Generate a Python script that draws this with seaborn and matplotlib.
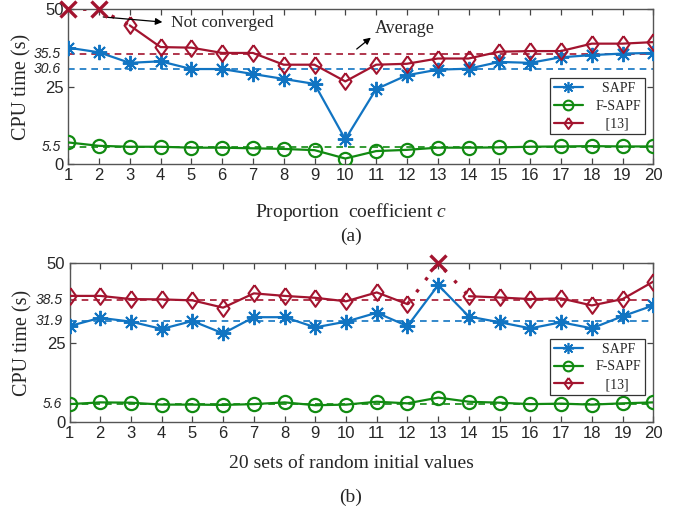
import numpy as np
import pandas as pd
import matplotlib
matplotlib.use('Agg')
import matplotlib.pyplot as plt
import seaborn as sns
from matplotlib.lines import Line2D

# panel (a): proportion coefficient c
c_vals = list(range(1, 21))
sapf_a = [37.6, 36.1, 32.7, 33.2, 30.7, 30.7, 29.1, 27.5, 25.9, 8.0,
          24.2, 28.7, 30.5, 30.8, 33.0, 32.7, 34.5, 35.2, 35.7, 35.9]
fsapf_a = [7.0, 5.9, 5.6, 5.6, 5.3, 5.3, 5.1, 4.9, 4.5, 1.8,
           4.2, 4.6, 5.3, 5.3, 5.4, 5.6, 5.7, 5.8, 5.7, 5.7]
ref13_a = [np.nan, np.nan, 44.8, 37.8, 37.6, 35.9, 35.9, 32.1, 32.1, 26.7,
           32.1, 32.4, 34.1, 34.1, 36.3, 36.5, 36.5, 38.9, 38.9, 39.4]
nc_a = [1, 2]  # not converged runs of [13]
avg_a = {'sapf': 30.6, 'fsapf': 5.5, 'ref13': 35.5}

# panel (b): 20 sets of random initial values
sets_b = list(range(1, 21))
sapf_b = [30.2, 32.8, 31.6, 29.3, 31.8, 27.9, 33.0, 33.0, 29.8, 31.6,
          34.4, 30.2, 43.1, 33.2, 31.4, 29.5, 31.4, 29.5, 33.3, 36.7]
fsapf_b = [5.65, 6.2, 6.1, 5.5, 5.5, 5.4, 5.65, 6.2, 5.3, 5.5,
           6.4, 5.9, 7.7, 6.4, 6.1, 5.65, 5.8, 5.5, 5.9, 6.2]
ref13_b = [39.7, 39.7, 38.7, 38.6, 38.3, 36.0, 40.5, 39.7, 39.1, 38.0,
           40.8, 37.1, np.nan, 39.6, 39.2, 38.7, 38.9, 36.7, 38.7, 44.2]
nc_b = [13]
avg_b = {'sapf': 31.9, 'fsapf': 5.6, 'ref13': 38.5}

NC_VALUE = 50
legend_labels = ['  SAPF', 'F-SAPF', '   [13]']

BLUE = '#1174c2'
GREEN = '#118a11'
RED = '#a3142f'
SERIF = 'Liberation Serif'
SANS = 'Liberation Sans'

ASTER = (8, 2, 0)
DIAMOND = [(0, 1), (0.72, 0), (0, -1), (-0.72, 0), (0, 1)]

sns.set_style('ticks')
plt.rcParams['font.family'] = SANS
plt.rcParams['mathtext.fontset'] = 'custom'
plt.rcParams['mathtext.it'] = 'Liberation Serif:italic'
plt.rcParams['mathtext.rm'] = 'Liberation Serif'


def segments(x, y):
    # split a series at NaN gaps
    out, cx, cy = [], [], []
    for xi, yi in zip(x, y):
        if np.isnan(yi):
            if cx:
                out.append((cx, cy))
            cx, cy = [], []
        else:
            cx.append(xi)
            cy.append(yi)
    if cx:
        out.append((cx, cy))
    return out


def plot_panel(ax, x, sapf, fsapf, ref13, nc, avg, leg_y):
    styles = [(sapf, BLUE, ASTER, dict(ms=11, mew=1.4)),
              (fsapf, GREEN, 'o', dict(ms=9.5, mew=1.6, mfc='none')),
              (ref13, RED, DIAMOND, dict(ms=12, mew=1.5, mfc='none'))]
    for y, col, mk, kw in styles:
        for sx, sy in segments(x, y):
            sns.lineplot(x=sx, y=sy, ax=ax, color=col, marker=mk, lw=1.6,
                         mec=col, zorder=3, **kw)
    # dotted connection for non-converged runs of [13]
    full = [NC_VALUE if xi in nc else yi for xi, yi in zip(x, ref13)]
    idx = [i for i, xi in enumerate(x) if xi in nc]
    lo, hi = max(min(idx) - 1, 0), min(max(idx) + 1, len(x) - 1)
    ax.plot(x[lo:hi + 1], full[lo:hi + 1], color=RED, ls=(0, (1, 3.5)), lw=2.4,
            zorder=2)
    ax.plot(nc, [NC_VALUE] * len(nc), ls='none', marker='x', ms=11, mew=2.4,
            color=RED, zorder=4, clip_on=False)
    # averages
    for key, col in [('sapf', BLUE), ('fsapf', GREEN), ('ref13', RED)]:
        ax.axhline(avg[key], color=col, ls=(0, (4, 3)), lw=1.2, zorder=1)
        ax.text(-0.012, avg[key], '%.1f' % avg[key], transform=ax.get_yaxis_transform(),
                ha='right', va='center', fontsize=10, style='italic',
                family=SANS)
    ax.set_xlim(1, 20)
    ax.set_ylim(0, 50)
    ax.set_xticks(x)
    ax.set_yticks([0, 25, 50])
    ax.tick_params(direction='in', top=True, right=True, labelsize=12,
                   length=4, width=0.9, color='#444444', pad=3)
    for s in ax.spines.values():
        s.set_color('#555555')
        s.set_linewidth(1.0)
    ax.set_ylabel('CPU time (s)', family=SERIF, fontsize=14.5, labelpad=10)
    handles = [Line2D([], [], color=BLUE, marker=ASTER, ms=8, mew=1.2, lw=1.6),
               Line2D([], [], color=GREEN, marker='o', ms=7, mew=1.5, mfc='none', lw=1.6),
               Line2D([], [], color=RED, marker=DIAMOND, ms=8, mew=1.4, mfc='none', lw=1.6)]
    leg = ax.legend(handles, legend_labels, loc='upper right',
                    bbox_to_anchor=(0.985, leg_y), prop={'family': SERIF, 'size': 10},
                    fancybox=False, edgecolor='#333333', framealpha=1,
                    handlelength=2.1, borderpad=0.25, labelspacing=0.35,
                    handletextpad=0.9, borderaxespad=0)
    leg.get_frame().set_linewidth(0.9)


fig = plt.figure(figsize=(6.95, 5.16), dpi=100)
ax1 = fig.add_axes([0.098, 0.682, 0.842, 0.300])
ax2 = fig.add_axes([0.100, 0.182, 0.840, 0.308])

plot_panel(ax1, c_vals, sapf_a, fsapf_a, ref13_a, nc_a, avg_a, 0.555)
plot_panel(ax2, sets_b, sapf_b, fsapf_b, ref13_b, nc_b, avg_b, 0.522)

ax1.annotate('', xy=(4.15, 45.8), xytext=(2.05, 47.6),
             arrowprops=dict(arrowstyle='-|>', color='black', lw=0.9, mutation_scale=10))
ax1.text(4.35, 45.6, 'Not converged', family=SERIF, fontsize=12.5, va='center')
ax1.annotate('', xy=(10.9, 41.4), xytext=(10.3, 36.6),
             arrowprops=dict(arrowstyle='-|>', color='black', lw=0.9, mutation_scale=10))
ax1.text(10.95, 43.8, 'Average', family=SERIF, fontsize=13, va='center')

fig.text(0.505, 1 - 212 / 516, 'Proportion  coefficient $\\mathit{c}$', family=SERIF,
         fontsize=14, ha='center', va='center')
fig.text(0.505, 1 - 236 / 516, '(a)', family=SERIF, fontsize=14, ha='center', va='center')
fig.text(0.505, 1 - 463 / 516, '20 sets of random initial values', family=SERIF,
         fontsize=14, ha='center', va='center')
fig.text(0.505, 1 - 497 / 516, '(b)', family=SERIF, fontsize=14, ha='center', va='center')

fig.savefig('out.png', dpi=100)
